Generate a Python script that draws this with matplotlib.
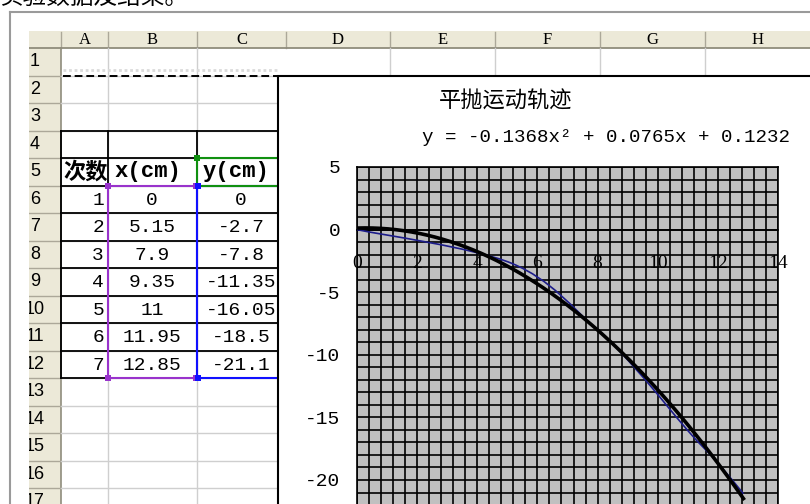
import numpy as np
import matplotlib
matplotlib.use("Agg")
import matplotlib.pyplot as plt
from matplotlib.patches import Rectangle, PathPatch
from matplotlib.path import Path

plt.rcParams['axes.unicode_minus'] = False

# ---- worksheet data -------------------------------------------------------
col_letters = ["A", "B", "C", "D", "E", "F", "G", "H"]
trial_no = [1, 2, 3, 4, 5, 6, 7]
x_cm = [0, 5.15, 7.9, 9.35, 11, 11.95, 12.85]
y_cm = [0, -2.7, -7.8, -11.35, -16.05, -18.5, -21.1]
headers = ["次数", "x(cm)", "y(cm)"]
caption = "实验数据及结果。"

# ---- chart data -----------------------------------------------------------
chart_title = "平抛运动轨迹"
trend_coef = [-0.1368, 0.0765, 0.1232]      # quadratic trendline a, b, c
x_ticks = [0, 2, 4, 6, 8, 10, 12, 14]
y_ticks = [-25, -20, -15, -10, -5, 0, 5]

W, H = 810, 504
fig = plt.figure(figsize=(W / 100, H / 100), dpi=100)
bg = fig.add_axes([0, 0, 1, 1])
bg.set_xlim(0, W)
bg.set_ylim(H, 0)
bg.axis('off')

col_edges = [61, 108, 197, 286, 390, 495, 600, 705, 810]
row_top, row_h = 48, 27.5
def row_y(k):          # top edge of sheet row k (1-based)
    return row_top + (k - 1) * row_h

beige = '#ECE9D8'
hdr_line = '#aca899'
cell_grid = '#cfcfcf'
mono = 'Liberation Mono'

# header strips
bg.add_patch(Rectangle((29, 31), W - 29, 17, fc=beige, ec='none', zorder=1))
bg.add_patch(Rectangle((29, 48), 32, H - 48, fc=beige, ec='none', zorder=1))
for x in col_edges[:-1]:
    bg.plot([x, x], [32, 48], color=hdr_line, lw=1, zorder=2)
bg.plot([29, W], [48, 48], color='#8f8c7c', lw=1.3, zorder=2)
bg.plot([61, 61], [48, H], color='#8f8c7c', lw=1.2, zorder=2)
for k in range(2, 19):
    bg.plot([29, 61], [row_y(k)] * 2, color=hdr_line, lw=1, zorder=2)

# column letters and row numbers
for i, letter in enumerate(col_letters):
    cx = (col_edges[i] + col_edges[i + 1]) / 2
    bg.text(cx, 39.5, letter, ha='center', va='center', fontsize=12,
            family='Liberation Serif', zorder=3)
for k in range(1, 18):
    bg.text(35, row_y(k) + row_h / 2, str(k), ha='center', va='center',
            fontsize=13, family='Liberation Sans', zorder=3)

# light cell grid
for k in range(2, 19):
    bg.plot([61, 278], [row_y(k)] * 2, color=cell_grid, lw=1, zorder=2)
for x in (108, 197):
    bg.plot([x, x], [48, H], color=cell_grid, lw=1, zorder=2)
for x in col_edges[4:-1]:
    bg.plot([x, x], [48, 76], color=cell_grid, lw=1, zorder=2)

# copy marquee along row 1
bg.plot([63, 278], [70, 70], color='#dadada', lw=2, ls=(0, (1, 1)), zorder=2)
bg.plot([63, 278], [76, 76], color='black', lw=1.4, ls=(0, (4, 2)), zorder=2)

# black table borders (rows 4..12)
for k in range(4, 14):
    bg.plot([61, 278], [row_y(k)] * 2, color='black', lw=1.3, zorder=2.5)
for x in (61, 108, 197):
    bg.plot([x, x], [row_y(4), row_y(13)], color='black', lw=1.3, zorder=2.5)

# coloured source-range outlines
purple, blue, green = '#9933cc', '#1010ff', '#109010'
bg.add_patch(Rectangle((108, row_y(6)), 89, row_y(13) - row_y(6), fill=False,
                       ec=purple, lw=1.5, zorder=2.6))
bg.add_patch(Rectangle((197, row_y(6)), 100, row_y(13) - row_y(6), fill=False,
                       ec=blue, lw=1.5, zorder=2.7))
bg.add_patch(Rectangle((197, row_y(5)), 100, row_h, fill=False,
                       ec=green, lw=1.5, zorder=2.7))
def handle(x, y, c, z):
    bg.add_patch(Rectangle((x - 3, y - 3), 6, 6, fc=c, ec='none', zorder=z))
for (x, y) in [(108, row_y(6)), (108, row_y(13)), (196, row_y(6)), (196, row_y(13))]:
    handle(x, y, purple, 2.8)
for (x, y) in [(198, row_y(6)), (198, row_y(13))]:
    handle(x, y, blue, 2.9)
handle(197, row_y(5), green, 2.9)

# header cells
clipA = Rectangle((61, row_y(5)), 45, row_h, transform=bg.transData)
t = bg.text(63, row_y(5) + row_h / 2, headers[0], ha='left', va='center',
            fontsize=16, fontweight='bold', family='Noto Sans CJK SC', zorder=3)
t.set_clip_path(clipA)
bg.text(148, row_y(5) + row_h / 2, headers[1], ha='center', va='center',
        fontsize=16, fontweight='bold', family=mono, zorder=3)
bg.text(236, row_y(5) + row_h / 2, headers[2], ha='center', va='center',
        fontsize=16, fontweight='bold', family=mono, zorder=3)

# data cells
for i, (n, xv, yv) in enumerate(zip(trial_no, x_cm, y_cm)):
    cy = row_y(6 + i) + row_h / 2 + 1
    bg.text(104, cy, str(n), ha='right', va='center', fontsize=14, family=mono, zorder=3)
    bg.text(152, cy, f"{xv:g}", ha='center', va='center', fontsize=14, family=mono, zorder=3)
    bg.text(241, cy, f"{yv:g}", ha='center', va='center', fontsize=14, family=mono, zorder=3)

# page margin, frame and caption
bg.add_patch(Rectangle((11, 13), 18, H - 13, fc='white', ec='none', zorder=4))
bg.plot([10, W], [12, 12], color='#9a9a9a', lw=1.5, zorder=7)
bg.plot([10, 10], [12, H], color='#9a9a9a', lw=1.5, zorder=7)
bg.text(-1, -3, caption, ha='left', va='center', fontsize=17,
        family='Noto Sans CJK SC', zorder=7)

# embedded chart area
bg.add_patch(Rectangle((278, 76), 700, 600, fc='white', ec='black', lw=1.5, zorder=5))
bg.text(506, 101, chart_title, ha='center', va='center', fontsize=16,
        family='Noto Sans CJK SC', zorder=6)
a, b, c = trend_coef
eq = f"y = {a:.4f}x\u00b2 + {b:.4f}x + {c:.4f}"
bg.text(422, 137, eq, ha='left', va='center', fontsize=13.8, family=mono, zorder=6)

# plot area
px_left, px_right, px_top, px_bot = 357, 778, 167, 542.6
ax = fig.add_axes([px_left / W, 1 - px_bot / H, (px_right - px_left) / W,
                   (px_bot - px_top) / H])
ax.spines['bottom'].set_position(('data', 0))
ax.set_facecolor('#c0c0c0')
ax.set_xlim(0, 14)
ax.set_ylim(-25, 5)
ax.set_xticks(x_ticks, labels=[str(v) for v in x_ticks],
              family='Liberation Serif', fontsize=14)
ax.set_yticks(y_ticks, labels=[str(v) for v in y_ticks],
              family=mono, fontsize=14)
ax.set_xticks(np.arange(0, 14.001, 0.4), minor=True)
ax.set_yticks(np.arange(-25, 5.001, 1), minor=True)
ax.grid(which='both', color='black', lw=1.2)
ax.set_axisbelow(True)
for s in ax.spines.values():
    s.set_color('black')
    s.set_linewidth(1.2)
ax.tick_params(which='both', length=0)
ax.tick_params(axis='x', pad=18)
ax.tick_params(axis='y', pad=12)

# measured trajectory, drawn as a smoothed line through the points
pts = np.column_stack([x_cm, y_cm]).astype(float)
ext = np.vstack([pts[:1], pts, pts[-1:]])
verts = [pts[0]]
codes = [Path.MOVETO]
for i in range(len(pts) - 1):
    p0, p1, p2, p3 = ext[i], ext[i + 1], ext[i + 2], ext[i + 3]
    verts += [p1 + (p2 - p0) / 6, p2 - (p3 - p1) / 6, p2]
    codes += [Path.CURVE4] * 3
ax.add_patch(PathPatch(Path(verts, codes), fill=False, ec='#1c1c8a', lw=1.2, zorder=3))

# quadratic trendline over the data range
xt = np.linspace(min(x_cm), max(x_cm), 200)
ax.plot(xt, np.polyval(trend_coef, xt), color='black', lw=2.6, zorder=4)

fig.savefig("out.png", dpi=100)
